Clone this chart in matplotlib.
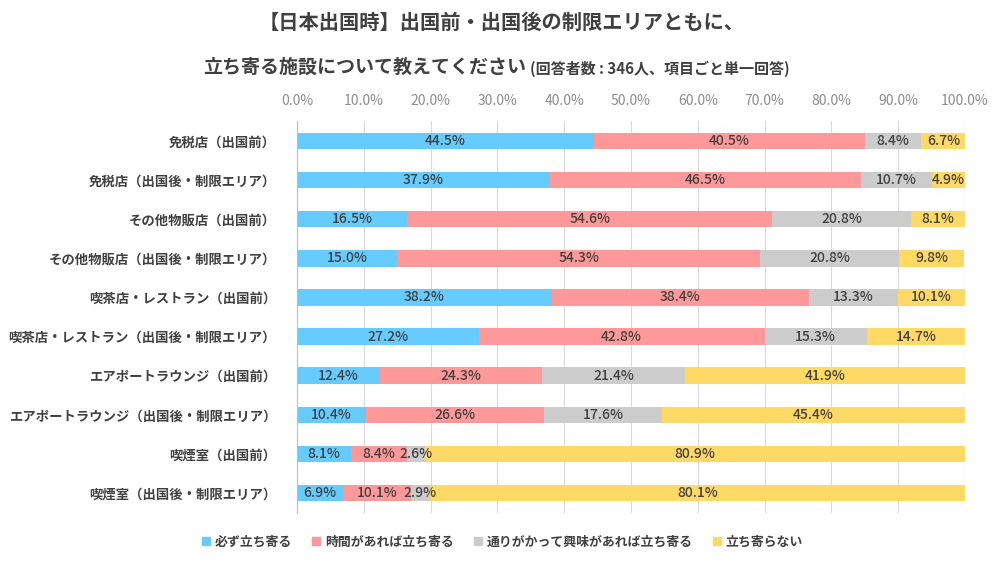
import matplotlib
matplotlib.use("Agg")
import matplotlib.pyplot as plt
from matplotlib.lines import Line2D
import numpy as np

plt.rcParams['font.family'] = ['Noto Sans CJK JP', 'DejaVu Sans']

categories = [
    "免税店（出国前）",
    "免税店（出国後・制限エリア）",
    "その他物販店（出国前）",
    "その他物販店（出国後・制限エリア）",
    "喫茶店・レストラン（出国前）",
    "喫茶店・レストラン（出国後・制限エリア）",
    "エアポートラウンジ（出国前）",
    "エアポートラウンジ（出国後・制限エリア）",
    "喫煙室（出国前）",
    "喫煙室（出国後・制限エリア）",
]
series_names = ["必ず立ち寄る", "時間があれば立ち寄る", "通りがかって興味があれば立ち寄る", "立ち寄らない"]
must_visit = [44.5, 37.9, 16.5, 15.0, 38.2, 27.2, 12.4, 10.4, 8.1, 6.9]
if_time = [40.5, 46.5, 54.6, 54.3, 38.4, 42.8, 24.3, 26.6, 8.4, 10.1]
if_interest = [8.4, 10.7, 20.8, 20.8, 13.3, 15.3, 21.4, 17.6, 2.6, 2.9]
no_visit = [6.7, 4.9, 8.1, 9.8, 10.1, 14.7, 41.9, 45.4, 80.9, 80.1]
x_ticks = [0, 10, 20, 30, 40, 50, 60, 70, 80, 90, 100]

colors = ["#66CCFF", "#FF9999", "#CCCCCC", "#FFD966"]
series = [must_visit, if_time, if_interest, no_visit]

fig = plt.figure(figsize=(10.04, 5.64), dpi=100)
ax = fig.add_axes([0.2958, 0.0913, 0.6654, 0.6933])

y = np.arange(len(categories))
left = np.zeros(len(categories))
for vals, col, name in zip(series, colors, series_names):
    vals = np.array(vals)
    ax.barh(y, vals, left=left, height=0.42, color=col, label=name, zorder=2)
    for yi, (l, v) in enumerate(zip(left, vals)):
        ax.text(l + v / 2, yi, f"{v:.1f}%", ha='center', va='center',
                fontsize=10, fontweight='medium', color='#404040', zorder=3)
    left += vals

ax.set_xlim(0, 100)
ax.set_ylim(len(categories) - 0.5, -0.5)
ax.set_xticks(x_ticks)
ax.set_xticklabels([f"{t:.1f}%" for t in x_ticks])
ax.xaxis.tick_top()
ax.tick_params(axis='x', length=0, pad=10, labelsize=10, labelcolor='#8C8C8C')
ax.set_yticks(y)
ax.set_yticklabels(categories, fontsize=9.6, fontweight='bold', color='#404040')
ax.tick_params(axis='y', length=0, pad=15)
ax.grid(axis='x', color='#D9D9D9', linewidth=0.8, zorder=0)
for s in ['top', 'right', 'bottom']:
    ax.spines[s].set_visible(False)
ax.spines['left'].set_color('#BFBFBF')

fig.text(0.5, 0.961, "【日本出国時】出国前・出国後の制限エリアともに、",
         ha='center', va='center', fontsize=14.6, fontweight='bold', color='#404040')
fig.text(203 / 1004, 0.881, "立ち寄る施設について教えてください",
         ha='left', va='center', fontsize=13.7, fontweight='bold', color='#404040')
fig.text(530 / 1004, 0.878, "(回答者数 : 346人、項目ごと単一回答)",
         ha='left', va='center', fontsize=10.8, fontweight='bold', color='#404040')

handles = [Line2D([0], [0], marker='s', linestyle='none', markersize=6,
                  markerfacecolor=c, markeredgecolor=c) for c in colors]
fig.legend(handles, series_names, loc='center', bbox_to_anchor=(0.5, 0.04), ncol=4,
           frameon=False, handlelength=0.7, handletextpad=0.35, columnspacing=1.5,
           labelcolor='#404040', prop={'weight': 'bold', 'size': 9.3})

fig.savefig("out.png", dpi=100)
